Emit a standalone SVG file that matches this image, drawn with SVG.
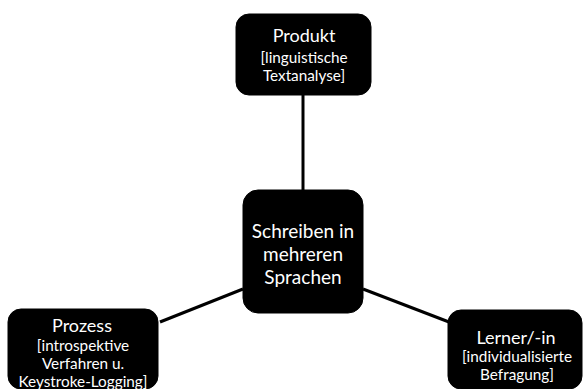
<svg xmlns="http://www.w3.org/2000/svg" width="585" height="389" viewBox="0 0 585 389">
<style>
.box{fill:#000;stroke:#000;}
.t{font-family:Lato,"Open Sans","Liberation Sans",sans-serif;fill:#fff;text-anchor:middle;}
.h{font-size:18px;}
.s{font-size:15.3px;}
.c{font-size:19px;}
.ln{stroke:#000;stroke-width:3;fill:none;}
</style>
<rect width="585" height="389" fill="#fff"/>
<g id="connectors">
<line class="ln" x1="303" y1="95" x2="303" y2="190"/>
<line class="ln" x1="243" y1="289" x2="160" y2="322"/>
<line class="ln" x1="363" y1="289" x2="449" y2="322"/>
</g>
<g id="produkt">
<rect class="box" x="236" y="14" width="135" height="81" rx="13"/>
<text class="t h" x="304" y="42">Produkt</text>
<text class="t s" x="304" y="63">[linguistische</text>
<text class="t s" x="304" y="81">Textanalyse]</text>
</g>
<g id="center">
<rect class="box" x="243" y="190" width="120" height="123" rx="15"/>
<text class="t c" x="303" y="238">Schreiben in</text>
<text class="t c" x="303" y="261">mehreren</text>
<text class="t c" x="303" y="284">Sprachen</text>
</g>
<g id="prozess">
<rect class="box" x="8" y="309" width="150" height="80" rx="13"/>
<text class="t h" x="82" y="332">Prozess</text>
<text class="t s" x="83" y="351">[introspektive</text>
<text class="t s" x="83" y="369">Verfahren u.</text>
<text class="t s" x="83" y="387">Keystroke-Logging]</text>
</g>
<g id="lerner">
<rect class="box" x="448" y="310" width="134" height="79" rx="13"/>
<text class="t h" x="516" y="344">Lerner/-in</text>
<text class="t s" x="517" y="362">[individualisierte</text>
<text class="t s" x="517" y="380">Befragung]</text>
</g>
</svg>
